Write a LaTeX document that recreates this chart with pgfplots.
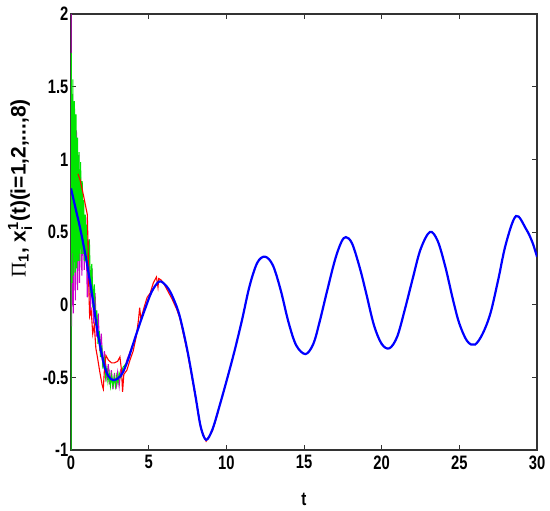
\documentclass[border=0pt]{standalone}
\usepackage{pgfplots}
\pgfplotsset{compat=1.18}
\usepackage{amsmath}
\usepackage{fontspec}
\setmainfont{Liberation Sans}
\newfontfamily\serifgr{Liberation Serif}
\definecolor{mred}{RGB}{255,0,0}
\definecolor{mmag}{RGB}{204,0,204}
\definecolor{mgreen}{RGB}{0,230,0}
\definecolor{mblue}{RGB}{0,0,255}
\begin{document}
\begin{tikzpicture}
\useasboundingbox (-71bp,-61bp) rectangle (479bp,450bp);
\begin{axis}[
  scale only axis, width=466bp, height=436bp,
  xmin=0, xmax=30, ymin=-1, ymax=2,
  xtick={0,5,...,30}, ytick={-1,-0.5,0,0.5,1,1.5,2},
  tick align=inside, major tick length=5bp,
  axis line style={line width=1.1bp, black!80},
  every tick/.style={black!80, line width=0.8bp},
  /pgf/number format/assume math mode=true,
  tick label style={font=\fontsize{19.5}{21}\selectfont\bfseries, transform shape, xscale=0.76},
  xticklabel style={yshift=-2bp},
  yticklabel style={xshift=0bp},
  xlabel={t},
  ylabel={{\serifgr\mdseries Π}$_{\text{1}}$, x$^{\text{1}}_{\text{i}}$(t)(i=1,2,...,8)},
  label style={font=\fontsize{19}{21}\selectfont\bfseries},
  ylabel style={font=\fontsize{21}{23}\selectfont\bfseries},
  xlabel style={at={(axis description cs:0.5,-0.1124)}, anchor=center, transform shape, xscale=0.8},
  ylabel style={at={(axis description cs:-0.1094,0.6)}, anchor=center},
  clip=true,
]
% magenta agent
\addplot[mmag, line width=1.1bp] coordinates {
(0,2) (0.04,-0.15) (0.1,1.45) (0.15,-0.06) (0.22,1.36) (0.28,0.03) (0.35,1.2) (0.42,0.1)
(0.5,1.03) (0.55,0.15) (0.62,0.88) (0.7,0.2) (0.78,0.72) (0.85,0.24) (0.95,0.6) (1.05,0.05)
(1.15,0.45) (1.25,-0.05) (1.35,0.25) (1.45,-0.13) (1.55,0.08) (1.65,-0.22) (1.75,-0.06) (1.85,-0.32)
(1.95,-0.2) (2.05,-0.43) (2.15,-0.32) (2.3,-0.5) (2.4,-0.41) (2.5,-0.55) (2.6,-0.45) (2.7,-0.58)
(2.8,-0.47) (2.9,-0.58) (3.0,-0.47) (3.1,-0.56) (3.2,-0.45) (3.4,-0.46) (3.6,-0.38) (4.0,-0.27)
};
% green agent
\addplot[mgreen, line width=1.1bp] coordinates {
(0,-1) (0.02,1.73) (0.07,0.15) (0.12,1.55) (0.17,0.2) (0.22,1.4) (0.27,0.22) (0.32,1.31)
(0.37,0.25) (0.42,1.15) (0.47,0.3) (0.52,1.05) (0.57,0.3) (0.62,0.98) (0.67,0.35) (0.72,0.85)
(0.77,0.35) (0.82,0.72) (0.87,0.3) (0.92,0.62) (0.97,0.3) (1.02,0.55) (1.1,0.2) (1.18,0.45)
(1.26,0.08) (1.34,0.28) (1.42,-0.02) (1.5,0.14) (1.58,-0.14) (1.66,-0.04) (1.74,-0.27) (1.82,-0.18)
(1.9,-0.36) (1.98,-0.28) (2.06,-0.44) (2.14,-0.38) (2.22,-0.5) (2.3,-0.44) (2.38,-0.53) (2.46,-0.47)
(2.54,-0.56) (2.62,-0.49) (2.7,-0.56) (2.78,-0.5) (2.86,-0.56) (2.94,-0.49) (3.02,-0.54) (3.1,-0.47)
(3.2,-0.5) (3.35,-0.43) (3.6,-0.4) (4.0,-0.27)
};
% red agent
\addplot[mred, line width=1.1bp] coordinates {
(0.45,0.90) (0.58,0.86) (0.75,0.78) (0.9,0.7) (1.05,0.62) (1.1,0.4) (1.15,0.1)
(1.2,-0.08) (1.3,-0.04) (1.4,-0.2) (1.5,-0.14) (1.6,-0.3) (1.7,-0.36) (1.85,-0.46) (2.0,-0.55)
(2.08,-0.58) (2.15,-0.45) (2.25,-0.35) (2.4,-0.38) (2.6,-0.4) (2.8,-0.4) (3.0,-0.39) (3.15,-0.36)
(3.25,-0.45) (3.32,-0.6) (3.4,-0.48) (3.6,-0.45) (3.8,-0.38) (4.0,-0.32) (4.2,-0.22) (4.35,-0.1)
(4.42,-0.02) (4.5,-0.1) (4.7,-0.02) (4.9,0.05) (5.1,0.08) (5.3,0.15) (5.5,0.19) (5.6,0.12)
(5.65,0.18) (5.8,0.17) (6.0,0.14) (6.2,0.1) (6.5,0.04) (6.8,-0.03) (7.0,-0.09) (7.5,-0.33)
(8.0,-0.63) (8.35,-0.85) (8.7,-0.94) (9.1,-0.87) (9.5,-0.73)
};
% leader (blue)
\addplot[mblue, line width=2.2bp, smooth, tension=0.55] coordinates {
(0,0.80) (0.3,0.66) (0.6,0.52) (1.0,0.30) (1.4,0.04) (1.7,-0.18) (2.1,-0.40) (2.4,-0.49)
(2.75,-0.52) (3.2,-0.49) (3.6,-0.40) (4.0,-0.27) (4.4,-0.14) (4.8,-0.02) (5.2,0.09) (5.7,0.16)
(6.2,0.12) (6.6,0.04) (7.0,-0.08) (7.5,-0.32) (8.0,-0.62) (8.35,-0.84) (8.7,-0.93) (9.1,-0.86)
(9.5,-0.72) (10.0,-0.53) (10.5,-0.33) (11.0,-0.11) (11.5,0.13) (12.0,0.29) (12.5,0.33) (13.0,0.27)
(13.5,0.10) (14.0,-0.12) (14.5,-0.28) (15.1,-0.34) (15.6,-0.27) (16.0,-0.12) (16.5,0.10) (17.0,0.31)
(17.4,0.43) (17.7,0.465) (18.1,0.42) (18.6,0.25) (19.0,0.08) (19.5,-0.14) (20.0,-0.27) (20.5,-0.30)
(21.0,-0.22) (21.5,-0.03) (22.0,0.18) (22.5,0.38) (23.1,0.50) (23.6,0.44) (24.1,0.26) (24.6,0.03)
(25.0,-0.13) (25.5,-0.25) (26.0,-0.275) (26.5,-0.20) (27.0,-0.06) (27.5,0.17) (28.0,0.42) (28.65,0.61)
(29.3,0.52) (29.7,0.43) (30,0.33)
};
\end{axis}
\end{tikzpicture}
\end{document}
